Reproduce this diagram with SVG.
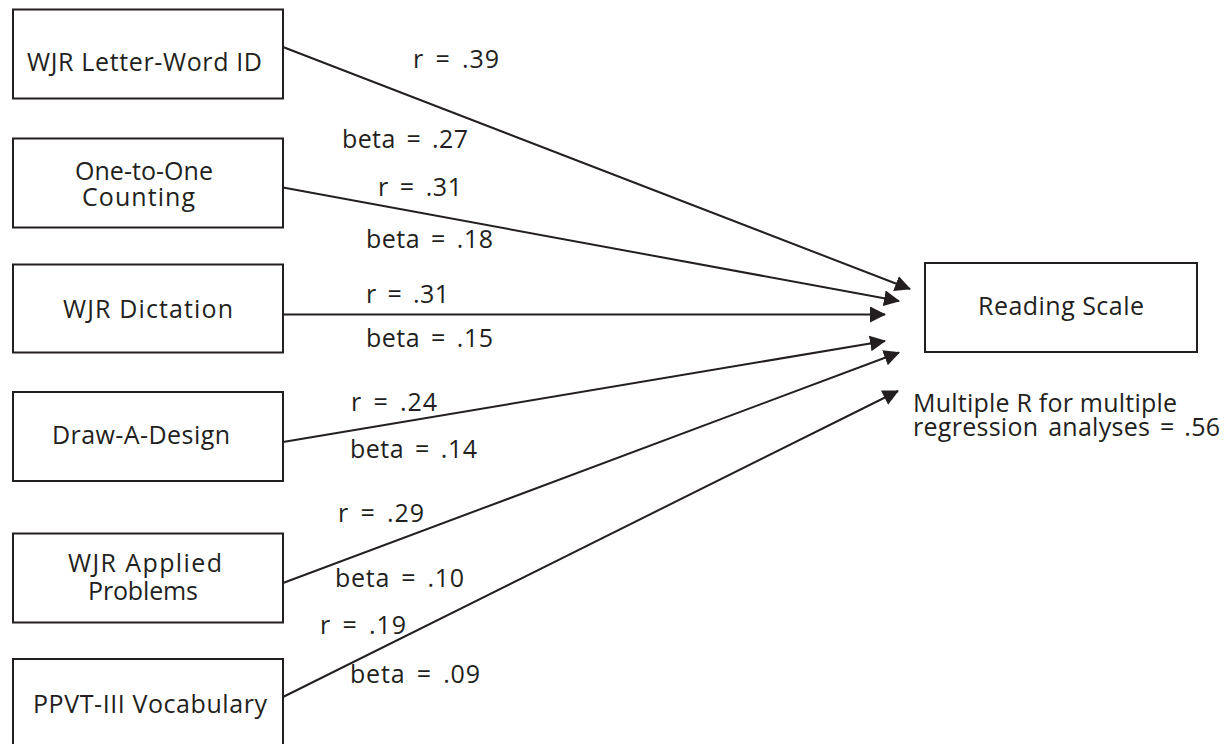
<svg xmlns="http://www.w3.org/2000/svg" width="1225" height="744" viewBox="0 0 1225 744">
<style>
.box{fill:#fff;stroke:#231f20;stroke-width:2}
.t{font-family:"Open Sans","Liberation Sans",sans-serif;font-size:25px;fill:#231f20}
.lbl{font-family:"Open Sans","Liberation Sans",sans-serif;font-size:25px;fill:#231f20;word-spacing:4px}
.edge{stroke:#231f20;stroke-width:2;fill:none;marker-end:url(#ah)}
</style>
<defs>
<marker id="ah" markerUnits="userSpaceOnUse" markerWidth="17" markerHeight="17" refX="15" refY="8" orient="auto">
<path d="M0,0 L16,8 L0,16 Z" fill="#231f20"/>
</marker>
</defs>
<rect width="1225" height="744" fill="#fff"/>
<g id="connectors">
<line class="edge" x1="283" y1="47" x2="910" y2="289"/>
<line class="edge" x1="283" y1="187.5" x2="899" y2="301"/>
<line class="edge" x1="283" y1="314.5" x2="885" y2="314.5"/>
<line class="edge" x1="283" y1="442" x2="885" y2="341"/>
<line class="edge" x1="283" y1="583" x2="899" y2="352.5"/>
<line class="edge" x1="283" y1="697" x2="898" y2="391"/>
</g>
<g id="labels">
<text class="lbl" x="413" y="68" textLength="86" lengthAdjust="spacing">r = .39</text>
<text class="lbl" x="342" y="148" textLength="126" lengthAdjust="spacing">beta = .27</text>
<text class="lbl" x="378" y="196" textLength="84" lengthAdjust="spacing">r = .31</text>
<text class="lbl" x="366" y="248" textLength="127" lengthAdjust="spacing">beta = .18</text>
<text class="lbl" x="366" y="303" textLength="83" lengthAdjust="spacing">r = .31</text>
<text class="lbl" x="366" y="347" textLength="127" lengthAdjust="spacing">beta = .15</text>
<text class="lbl" x="351" y="411" textLength="86" lengthAdjust="spacing">r = .24</text>
<text class="lbl" x="350" y="458" textLength="127" lengthAdjust="spacing">beta = .14</text>
<text class="lbl" x="338" y="522" textLength="86" lengthAdjust="spacing">r = .29</text>
<text class="lbl" x="335" y="587" textLength="129" lengthAdjust="spacing">beta = .10</text>
<text class="lbl" x="320" y="634" textLength="86" lengthAdjust="spacing">r = .19</text>
<text class="lbl" x="350" y="683" textLength="130" lengthAdjust="spacing">beta = .09</text>
</g>
<g id="n-letterword">
<rect class="box" x="13" y="9.5" width="270" height="89"/>
<text class="t" x="27" y="71" textLength="235" lengthAdjust="spacing">WJR Letter-Word ID</text>
</g>
<g id="n-counting">
<rect class="box" x="13" y="138.5" width="270" height="89"/>
<text class="t" x="75" y="180" textLength="138" lengthAdjust="spacing">One-to-One</text>
<text class="t" x="82" y="206" textLength="113" lengthAdjust="spacing">Counting</text>
</g>
<g id="n-dictation">
<rect class="box" x="13" y="264.5" width="270" height="88"/>
<text class="t" x="63" y="318" textLength="170" lengthAdjust="spacing">WJR Dictation</text>
</g>
<g id="n-drawadesign">
<rect class="box" x="13" y="392" width="270" height="89"/>
<text class="t" x="52" y="444" textLength="178" lengthAdjust="spacing">Draw-A-Design</text>
</g>
<g id="n-applied">
<rect class="box" x="13" y="533.5" width="270" height="89"/>
<text class="t" x="68" y="572" textLength="154" lengthAdjust="spacing">WJR Applied</text>
<text class="t" x="88" y="600" textLength="110" lengthAdjust="spacing">Problems</text>
</g>
<g id="n-ppvt">
<rect class="box" x="13" y="659" width="270" height="100"/>
<text class="t" x="33" y="713" textLength="234" lengthAdjust="spacing">PPVT-III Vocabulary</text>
</g>
<g id="n-reading">
<rect class="box" x="925" y="263" width="272" height="89"/>
<text class="t" x="978" y="315" textLength="166" lengthAdjust="spacing">Reading Scale</text>
</g>
<g id="note">
<text class="t" x="913" y="412" textLength="264" lengthAdjust="spacing">Multiple R for multiple</text>
<text class="t" x="913" y="436" textLength="307" lengthAdjust="spacing" style="word-spacing:3px">regression analyses = .56</text>
</g>
</svg>
